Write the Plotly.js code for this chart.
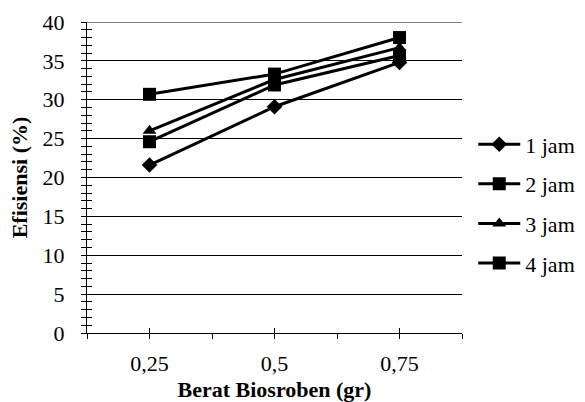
<!DOCTYPE html>
<html>
<head>
<meta charset="utf-8">
<script src="https://cdn.plot.ly/plotly-3.0.1.min.js"></script>
<style>html,body{margin:0;padding:0;background:#fff}#chart{width:585px;height:402px}</style>
</head>
<body>
<div id="chart"></div>
<script>
const categories = ["0,25", "0,5", "0,75"];
const seriesNames = ["1 jam", "2 jam", "3 jam", "4 jam"];
const jam1 = [21.6, 29.1, 34.8];
const jam2 = [24.6, 31.9, 35.7];
const jam3 = [26.0, 32.6, 36.7];
const jam4 = [30.7, 33.3, 38.0];
const yTicks = [0, 5, 10, 15, 20, 25, 30, 35, 40];

const seriesValues = [jam1, jam2, jam3, jam4];
const symbols = ["diamond", "square", "triangle-up", "square"];
const sizes = [12, 13, 12, 13];
const xPos = categories.map((c, i) => i + 1);

const font = {family: "Liberation Serif, Times New Roman, serif", color: "#000"};

const traces = seriesValues.map((vals, i) => ({
  type: "scatter",
  mode: "lines+markers",
  name: seriesNames[i],
  x: xPos,
  y: vals,
  legendgroup: "g" + i,
  line: {color: "#000", width: 3},
  marker: {symbol: symbols[i], size: sizes[i], color: "#000"},
  cliponaxis: false
}));

const yMax = yTicks[yTicks.length - 1];

const layout = {
  width: 585,
  height: 402,
  margin: {l: 87, r: 123, t: 22, b: 69, autoexpand: false},
  paper_bgcolor: "#fff",
  plot_bgcolor: "#fff",
  font: Object.assign({size: 22}, font),
  showlegend: true,
  legend: {
    x: 1.03, xanchor: "left",
    y: 0.415, yanchor: "middle",
    font: Object.assign({size: 22}, font),
    tracegroupgap: 8,
    itemwidth: 42,
    bgcolor: "rgba(0,0,0,0)"
  },
  shapes: [{type: "line", xref: "paper", yref: "y", x0: 0, x1: 1, y0: yMax, y1: yMax, line: {color: "#000", width: 1}, layer: "below"}],
  xaxis: {
    range: [0.5, 3.5],
    tickmode: "array",
    tickvals: xPos,
    ticktext: categories,
    ticks: "outside",
    ticklen: 5,
    tickcolor: "#000",
    ticklabelstandoff: 6,
    showline: true,
    linecolor: "#000",
    linewidth: 1,
    showgrid: false,
    zeroline: false,
    minor: {tickmode: "array", tickvals: [0.5, 1.5, 2.5, 3.5], ticks: "outside", ticklen: 5, tickcolor: "#000", showgrid: false},
    title: {text: "<b>Berat Biosroben (gr)</b>", font: Object.assign({size: 22}, font), standoff: 9}
  },
  xaxis2: {
    overlaying: "x",
    range: [0.5, 3.5],
    tickmode: "array",
    tickvals: xPos,
    ticks: "inside",
    ticklen: 5,
    tickcolor: "#000",
    showticklabels: false,
    showgrid: false,
    zeroline: false,
    showline: false,
    anchor: "y"
  },
  yaxis: {
    range: [0, 40],
    tickmode: "array",
    tickvals: yTicks,
    ticks: "outside",
    ticklen: 5,
    tickcolor: "#000",
    ticklabelstandoff: 12,
    showline: true,
    linecolor: "#000",
    linewidth: 1,
    showgrid: true,
    gridcolor: "#000",
    gridwidth: 1,
    zeroline: false,
    minor: {dtick: 1, ticks: "outside", ticklen: 5, tickcolor: "#000", showgrid: false},
    title: {text: "<b>Efisiensi (%)</b>", font: Object.assign({size: 22}, font), standoff: 8}
  },
  yaxis2: {
    overlaying: "y",
    range: [0, 40],
    tickmode: "array",
    tickvals: yTicks,
    ticks: "inside",
    ticklen: 5,
    tickcolor: "#000",
    showticklabels: false,
    showgrid: false,
    zeroline: false,
    showline: false,
    anchor: "x",
    side: "left",
    minor: {dtick: 1, ticks: "inside", ticklen: 5, tickcolor: "#000", showgrid: false}
  }
};

traces.push({type: "scatter", x: [1], y: [0], xaxis: "x2", yaxis: "y2", mode: "markers", marker: {opacity: 0}, showlegend: false, hoverinfo: "skip"});

Plotly.newPlot("chart", traces, layout, {staticPlot: true, displayModeBar: false});
</script>
</body>
</html>
